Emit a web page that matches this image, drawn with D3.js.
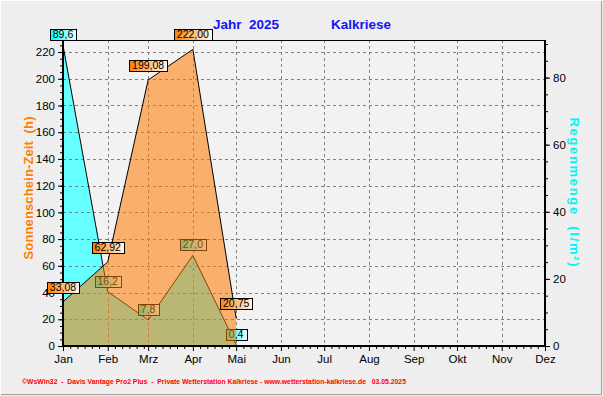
<!DOCTYPE html>
<html>
<head>
<meta charset="utf-8">
<script src="https://cdn.jsdelivr.net/npm/d3@7"></script>
<style>
  body { margin: 0; background: #ececec; }
  svg { display: block; }
  text { font-family: Arial, "Liberation Sans", sans-serif; }
</style>
</head>
<body>
<div id="chart"></div>
<script>
// chart data
var year = 2025;
var station = "Kalkriese";
var months = ["Jan","Feb","Mrz","Apr","Mai","Jun","Jul","Aug","Sep","Okt","Nov","Dez"];
var sunshine = [33.08, 62.92, 199.08, 222.00, 20.75];   // hours, per month
var rain = [89.6, 16.2, 7.8, 27.0, 0.4];                 // l/m2, per month
var leftTicks = [0,20,40,60,80,100,120,140,160,180,200,220];
var rightTicks = [0,20,40,60,80];
var footer = "\u00a9WsWin32  -  Davis Vantage Pro2 Plus  -  Private Wetterstation Kalkriese - www.wetterstation-kalkriese.de   03.05.2025";

var screen = {width:603, height:396};
var plot = {left:63, right:545, top:40, bottom:346};

var svg = d3.select("#chart")
    .append("svg")
    .attr("width", screen.width)
    .attr("height", screen.height);

var defs = svg.append("defs");

// speckled background like the original
var pat = defs.append("pattern")
    .attr("id","speck")
    .attr("width",4).attr("height",4)
    .attr("patternUnits","userSpaceOnUse");
pat.append("rect").attr("width",4).attr("height",4).attr("fill","#ededed");
pat.append("rect").attr("x",1).attr("y",0).attr("width",1).attr("height",1).attr("fill","#fafafa");
pat.append("rect").attr("x",3).attr("y",2).attr("width",1).attr("height",1).attr("fill","#f8f8f8");

var mkGrad = function(id, from, to) {
    var g = defs.append("linearGradient").attr("id", id)
        .attr("x1","0").attr("x2","1").attr("y1","0").attr("y2","0");
    g.append("stop").attr("offset","0").attr("stop-color", from);
    g.append("stop").attr("offset","1").attr("stop-color", to);
};
mkGrad("gSun", "#ff8000", "#fff8ee");
mkGrad("gRain", "#00ffff", "#f4ffff");

svg.append("rect")
    .attr("width", screen.width).attr("height", screen.height)
    .attr("fill","url(#speck)");
// bevel border
svg.append("path").attr("d","M0.5,395.5 V0.5 H602.5").attr("stroke","#ffffff").attr("fill","none");
svg.append("path").attr("d","M1,394.5 H601.5 V1").attr("stroke","#a0a0a0").attr("fill","none");

// scales
var xScale = d3.scaleUtc()
    .domain([new Date(Date.UTC(year,0,1)), new Date(Date.UTC(year,11,1))])
    .range([plot.left, plot.right]);
var yLeft = d3.scaleLinear().domain([0, 229]).range([plot.bottom, plot.top]);
var yRight = d3.scaleLinear().domain([0, 91.2]).range([plot.bottom, plot.top]);

var monthDate = function(i) { return new Date(Date.UTC(year, i, 1)); };
var fmt2 = d3.formatLocale({decimal:",", thousands:".", grouping:[3], currency:["","€"]}).format(".2f");
var fmt1 = d3.formatLocale({decimal:",", thousands:".", grouping:[3], currency:["","€"]}).format(".1f");

// plot background
svg.append("rect")
    .attr("x", plot.left).attr("y", plot.top)
    .attr("width", plot.right-plot.left).attr("height", plot.bottom-plot.top)
    .attr("fill","#f2f2f2");

// rain area (cyan)
var rainArea = d3.area()
    .x(function(d,i){ return xScale(monthDate(i)); })
    .y0(plot.bottom)
    .y1(function(d){ return yRight(d); });
var rainLine = d3.line()
    .x(function(d,i){ return xScale(monthDate(i)); })
    .y(function(d){ return yRight(d); });

svg.append("path").datum(rain)
    .attr("d", rainArea)
    .attr("fill","#66ffff");

// gridlines
var grid = svg.append("g").attr("stroke","#808080").attr("stroke-dasharray","3,3").attr("stroke-width",1);
grid.selectAll("line.h")
    .data(leftTicks.slice(1))
    .enter().append("line")
    .attr("x1", plot.left).attr("x2", plot.right)
    .attr("y1", function(d){ return Math.round(yLeft(d))+0.5; })
    .attr("y2", function(d){ return Math.round(yLeft(d))+0.5; });
grid.selectAll("line.v")
    .data(d3.range(1,11))
    .enter().append("line")
    .attr("x1", function(i){ return Math.round(xScale(monthDate(i)))+0.5; })
    .attr("x2", function(i){ return Math.round(xScale(monthDate(i)))+0.5; })
    .attr("y1", plot.top).attr("y2", plot.bottom);

svg.append("path").datum(rain)
    .attr("d", rainLine)
    .attr("fill","none").attr("stroke","#000").attr("stroke-width",1);

// value label boxes
var drawLabels = function(values, scale, fmt, grad, gap) {
    var g = svg.append("g");
    values.forEach(function(v, i) {
        var x = xScale(monthDate(i));
        var y = scale(v);
        var txt = g.append("text")
            .attr("x", x).attr("y", y - gap - 2)
            .attr("text-anchor","middle")
            .attr("font-size","10.5px")
            .attr("fill","#000")
            .text(fmt(v));
        var w = txt.node().getComputedTextLength() + 6;
        g.insert("rect", "text")
            .attr("x", Math.round(x - w/2)+0.5)
            .attr("y", Math.round(y - gap - 11)+0.5)
            .attr("width", Math.round(w))
            .attr("height", 11)
            .attr("fill", "url(#" + grad + ")")
            .attr("stroke", "#000");
    });
};
drawLabels(rain, yRight, fmt1, "gRain", 5);

// sunshine area (orange, semi transparent)
var sunArea = d3.area()
    .x(function(d,i){ return xScale(monthDate(i)); })
    .y0(plot.bottom)
    .y1(function(d){ return yLeft(d); });
var sunLine = d3.line()
    .x(function(d,i){ return xScale(monthDate(i)); })
    .y(function(d){ return yLeft(d); });

svg.append("path").datum(sunshine)
    .attr("d", sunArea)
    .attr("fill","#ff7a00").attr("fill-opacity",0.55);
svg.append("path").datum(sunshine)
    .attr("d", sunLine)
    .attr("fill","none").attr("stroke","#000").attr("stroke-width",1);

// axes
var xAxis = d3.axisBottom(xScale)
    .tickValues(d3.range(0,12).map(monthDate))
    .tickFormat(function(d){ return months[d.getUTCMonth()]; })
    .tickSize(5).tickPadding(4);
var minorDays = [];
for (var m = 0; m < 11; m++) {
    [5,10,15,20,25].forEach(function(off){ minorDays.push(d3.utcDay.offset(monthDate(m), off)); });
}
var xMinor = d3.axisBottom(xScale).tickValues(minorDays).tickFormat("").tickSize(3);

var yAxisL = d3.axisLeft(yLeft).tickValues(leftTicks).tickSize(5).tickPadding(3);
var yMinorL = d3.axisLeft(yLeft).tickValues(d3.range(5,229,5)).tickFormat("").tickSize(3);
var yAxisR = d3.axisRight(yRight).tickValues(rightTicks).tickSize(5).tickPadding(3);
var yMinorR = d3.axisRight(yRight).tickValues(d3.range(5,91,5)).tickFormat("").tickSize(3);

var styleAxis = function(g) {
    g.select(".domain").remove();
    g.selectAll("text").attr("font-size","11.5px").attr("fill","#000")
        .attr("font-family","Arial, 'Liberation Sans', sans-serif");
    g.selectAll("line").attr("stroke","#000");
};

svg.append("g").attr("transform","translate(0,"+plot.bottom+")").call(xMinor).call(styleAxis);
svg.append("g").attr("transform","translate(0,"+plot.bottom+")").call(xAxis).call(styleAxis);
svg.append("g").attr("transform","translate("+plot.left+",0)").call(yMinorL).call(styleAxis);
svg.append("g").attr("transform","translate("+plot.left+",0)").call(yAxisL).call(styleAxis);
svg.append("g").attr("transform","translate("+plot.right+",0)").call(yMinorR).call(styleAxis);
svg.append("g").attr("transform","translate("+plot.right+",0)").call(yAxisR).call(styleAxis);

// frame
svg.append("line").attr("x1",plot.left).attr("x2",plot.right+1).attr("y1",plot.top+0.5).attr("y2",plot.top+0.5)
    .attr("stroke","#000").attr("stroke-width",1);
svg.append("line").attr("x1",plot.left).attr("x2",plot.left).attr("y1",plot.top).attr("y2",plot.bottom+1)
    .attr("stroke","#000").attr("stroke-width",2);
svg.append("line").attr("x1",plot.right).attr("x2",plot.right).attr("y1",plot.top).attr("y2",plot.bottom+1)
    .attr("stroke","#000").attr("stroke-width",2);
svg.append("line").attr("x1",plot.left).attr("x2",plot.right+1).attr("y1",plot.bottom).attr("y2",plot.bottom)
    .attr("stroke","#000").attr("stroke-width",2);

drawLabels(sunshine, yLeft, fmt2, "gSun", 9);

// titles
svg.append("text").attr("x",213).attr("y",29)
    .attr("font-size","13.5px").attr("font-weight","bold").attr("fill","#1414f0")
    .attr("xml:space","preserve")
    .text("Jahr  " + year);
svg.append("text").attr("x",331).attr("y",29)
    .attr("font-size","13.5px").attr("font-weight","bold").attr("fill","#1414f0")
    .text(station);

svg.append("text")
    .attr("transform","translate(33,188) rotate(-90)")
    .attr("text-anchor","middle")
    .attr("font-size","13px").attr("font-weight","bold").attr("fill","#ff8000")
    .attr("textLength",143).attr("lengthAdjust","spacing")
    .attr("xml:space","preserve")
    .text("Sonnenschein-Zeit  (h)");

svg.append("text")
    .attr("transform","translate(570,192) rotate(90)")
    .attr("text-anchor","middle")
    .attr("font-size","13px").attr("font-weight","bold").attr("fill","#00f4f4")
    .attr("textLength",149).attr("lengthAdjust","spacing")
    .attr("xml:space","preserve")
    .text("Regenmenge  (l/m\u00b2)");

svg.append("text").attr("x",22).attr("y",384)
    .attr("font-size","7.5px").attr("font-weight","bold").attr("fill","#ff0000")
    .attr("textLength",384).attr("lengthAdjust","spacingAndGlyphs")
    .attr("xml:space","preserve")
    .text(footer);
</script>
</body>
</html>
